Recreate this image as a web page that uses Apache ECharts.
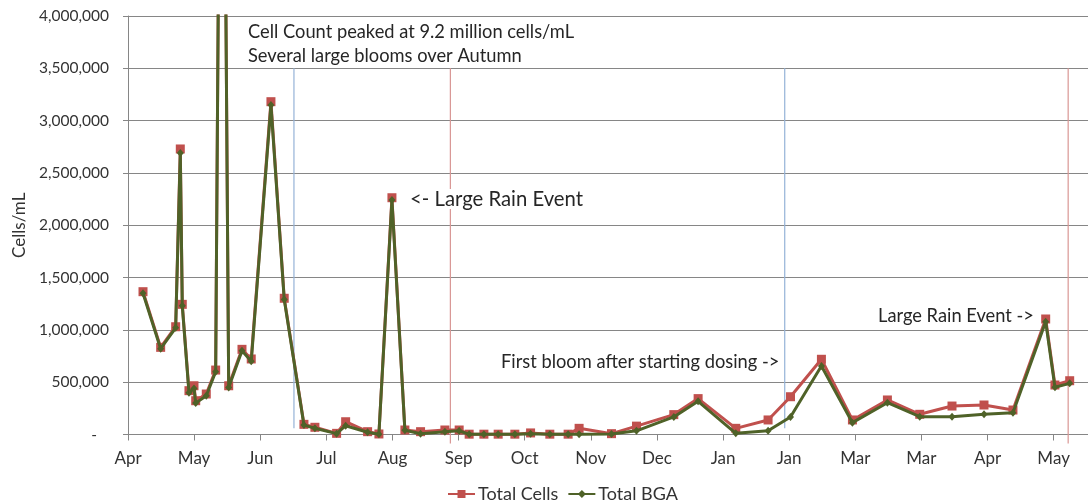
<!DOCTYPE html>
<html>
<head>
<meta charset="utf-8">
<script src="https://cdn.jsdelivr.net/npm/echarts@6/dist/echarts.min.js"></script>
<style>
html,body{margin:0;padding:0;background:#fff;}
#chart{width:1088px;height:504px;}
</style>
</head>
<body>
<div id="chart"></div>
<script>
// Tick labels along the date axis (one per major tick)
const tickLabels = ['Apr','May','Jun','Jul','Aug','Sep','Oct','Nov','Dec','Jan','Jan','Mar','Mar','Apr','May'];

// Sample positions, measured in major-tick units from the first tick
const samplePos = [0.227,0.494,0.721,0.791,0.821,0.922,0.998,1.024,1.184,1.326,1.421,1.523,1.724,1.864,2.162,2.363,2.661,2.827,3.155,3.292,3.624,3.795,3.992,4.188,4.425,4.793,5.009,5.160,5.383,5.599,5.851,6.089,6.380,6.657,6.823,7.313,7.691,8.255,8.623,9.193,9.681,10.020,10.488,10.957,11.486,11.975,12.463,12.947,13.385,13.880,14.020,14.243];

const totalCells = [1365000,833000,1030000,2729000,1244000,419000,466000,323000,387000,616000,9200000,466000,814000,722000,3181000,1302000,97000,69000,11000,122000,27000,5000,2263000,43000,27000,43000,43000,3000,3000,3000,3000,15000,3000,3000,59000,8000,80000,190000,343000,59000,139000,361000,719000,139000,330000,193000,272000,282000,234000,1104000,473000,514000];

const totalBGA = [1350000,820000,1020000,2690000,1230000,400000,440000,300000,370000,600000,9100000,450000,800000,700000,3150000,1290000,90000,60000,8000,84000,22000,3000,2241000,40000,8000,27000,35000,2000,2000,2000,2000,8000,2000,2000,3000,5000,35000,168000,317000,11000,35000,167000,655000,113000,304000,170000,170000,193000,208000,1078000,451000,489000];

// Event marker lines (positions in tick units, colour key)
const eventPos = [2.51, 4.876, 9.933, 14.22];
const eventKind = ['blue','red','blue','red'];

const FONT = 'Lato';
const chart = echarts.init(document.getElementById('chart'));

function pairs(ys){ return samplePos.map((x,i)=>[x, ys[i]]); }

const option = {
  animation:false,
  backgroundColor:'#fff',
  textStyle:{fontFamily:FONT},
  grid:{left:128, top:16, right:0, bottom:69.5, containLabel:false, outerBoundsMode:'none'},
  legend:{
    left:447, top:485, padding:0,
    itemWidth:27, itemHeight:10, itemGap:9,
    textStyle:{fontFamily:FONT, fontSize:18, color:'#333', padding:[0,0,0,-2]},
    data:['Total Cells','Total BGA']
  },
  xAxis:{
    type:'value', min:0, max:14.52, interval:1,
    axisLine:{show:true, lineStyle:{color:'#868686', width:1}},
    axisTick:{show:true, length:6, lineStyle:{color:'#868686'}},
    splitLine:{show:false},
    axisLabel:{
      fontFamily:FONT, fontSize:17, color:'#333', margin:16, showMaxLabel:false,
      formatter:function(v){ const i=Math.round(v); return Math.abs(v-i)<1e-6 && tickLabels[i] ? tickLabels[i] : ''; }
    }
  },
  yAxis:{
    type:'value', min:0, max:4000000, interval:500000,
    name:'Cells/mL', nameLocation:'middle', nameGap:99, nameRotate:90,
    nameTextStyle:{fontFamily:FONT, fontSize:17, color:'#333'},
    axisLine:{show:true, lineStyle:{color:'#868686', width:1}},
    axisTick:{show:true, length:5, lineStyle:{color:'#868686'}},
    splitLine:{show:true, lineStyle:{color:'#868686', width:1}},
    axisLabel:{
      fontFamily:FONT, fontSize:15.5, color:'#333', margin:19,
      formatter:function(v){ return v===0 ? '-   ' : v.toLocaleString('en-US'); }
    }
  },
  series:[
    {
      name:'Total Cells', type:'line', data:pairs(totalCells),
      symbol:'rect', symbolSize:9, clip:true,
      lineStyle:{color:'#c0504d', width:3},
      itemStyle:{color:'#c0504d'},
      z:2
    },
    {
      name:'Total BGA', type:'line', data:pairs(totalBGA),
      symbol:'diamond', symbolSize:[7,8], clip:true,
      lineStyle:{color:'#4f6228', width:3},
      itemStyle:{color:'#4f6228'},
      z:3
    }
  ]
};
chart.setOption(option);

// Event lines drawn through the chart's own scales
const gfx = [];
eventPos.forEach((x,i)=>{
  const top = chart.convertToPixel({gridIndex:0}, [x, 3500000]);
  const bot = chart.convertToPixel({gridIndex:0}, [x, eventKind[i]==='red' ? -85000 : 60000]);
  gfx.push({
    type:'line', z:1, silent:true,
    shape:{x1:top[0], y1:top[1], x2:bot[0], y2:bot[1]},
    style:{stroke: eventKind[i]==='red' ? '#d99694' : '#95b3d7', lineWidth:1.2}
  });
});
const note = (txt, left, top, size) => ({
  type:'text', left:left, top:top, z:10, silent:true,
  style:{text:txt, fontFamily:FONT, fontSize:size, fill:'#262626', backgroundColor:'#fff'}
});
gfx.push(note('Cell Count peaked at 9.2 million cells/mL', 248, 23, 18.3));
gfx.push(note('Several large blooms over Autumn', 248, 47, 18.3));
gfx.push(note('<- Large Rain Event', 410, 189, 20.3));
gfx.push(note('First bloom after starting dosing ->', 501, 353, 18.3));
gfx.push(note('Large Rain Event ->', 878, 307, 18.3));
chart.setOption({graphic:gfx});
</script>
</body>
</html>
